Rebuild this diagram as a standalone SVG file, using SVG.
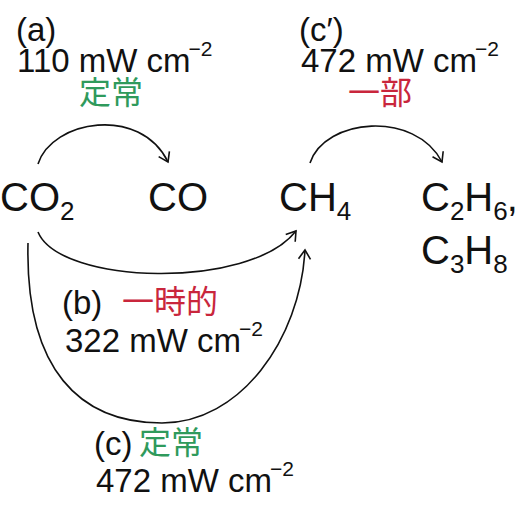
<svg xmlns="http://www.w3.org/2000/svg" width="519" height="511" viewBox="0 0 519 511">
<style>
.t{font-family:"Liberation Sans",Arial,sans-serif;fill:#111}
.lbl{font-size:33px}
.chem{font-size:40px}
.sub{font-size:26px}
.sup{font-size:21px}
.jp{font-family:"Noto Sans CJK JP","Noto Sans CJK SC",sans-serif;font-size:32px}
.g{fill:#2f9a5c}
.r{fill:#c9263c}
.c{fill:none;stroke:#111;stroke-width:1.6}
</style>
<defs>
<marker id="ah" markerUnits="userSpaceOnUse" markerWidth="20" markerHeight="20" refX="0" refY="0" viewBox="-12 -10 14 20" orient="auto">
<path d="M-9,-6 L0,0 L-9,6" fill="none" stroke="#111" stroke-width="1.6"/>
</marker>
</defs>
<rect width="519" height="511" fill="#fff"/>
<g id="connectors">
<path class="c" d="M38,164 C52,120 140,105 168,162" marker-end="url(#ah)"/>
<path class="c" d="M310,163 C325,118 415,110 442,162" marker-end="url(#ah)"/>
<path class="c" d="M38,232 C60,285 250,290 296,231" marker-end="url(#ah)"/>
<path class="c" d="M28,243 C25,370 80,423 162,423 C240,423 300,340 305,250" marker-end="url(#ah)"/>
</g>
<g id="node-CO2"><text class="t chem" x="0" y="211">CO<tspan class="sub" dy="9">2</tspan></text></g>
<g id="node-CO"><text class="t chem" x="148" y="211">CO</text></g>
<g id="node-CH4"><text class="t chem" x="279" y="211">CH<tspan class="sub" dy="9">4</tspan></text></g>
<g id="node-C2H6"><text class="t chem" x="421" y="211">C<tspan class="sub" dy="9">2</tspan><tspan dy="-9">H</tspan><tspan class="sub" dy="9">6</tspan><tspan dy="-9" dx="-1">,</tspan></text>
<text class="t chem" x="421" y="264">C<tspan class="sub" dy="9">3</tspan><tspan dy="-9">H</tspan><tspan class="sub" dy="9">8</tspan></text></g>
<g id="label-a">
<text class="t lbl" x="16" y="41">(a)</text>
<text class="t lbl" x="17" y="72">110 mW cm<tspan class="sup" dy="-16" dx="-2">−2</tspan></text>
<text class="jp g" x="79" y="104">定常</text>
</g>
<g id="label-c-prime">
<text class="t lbl" x="299" y="41">(c′)</text>
<text class="t lbl" x="301" y="72">472 mW cm<tspan class="sup" dy="-16" dx="-2">−2</tspan></text>
<text class="jp r" x="348" y="104">一部</text>
</g>
<g id="label-b">
<text class="t lbl" x="62" y="314">(b)</text>
<text class="jp r" x="122" y="313">一時的</text>
<text class="t lbl" x="65" y="352">322 mW cm<tspan class="sup" dy="-16" dx="-2">−2</tspan></text>
</g>
<g id="label-c">
<text class="t lbl" x="94" y="455">(c)</text>
<text class="jp g" x="139" y="454">定常</text>
<text class="t lbl" x="96" y="492">472 mW cm<tspan class="sup" dy="-16" dx="-2">−2</tspan></text>
</g>
</svg>
